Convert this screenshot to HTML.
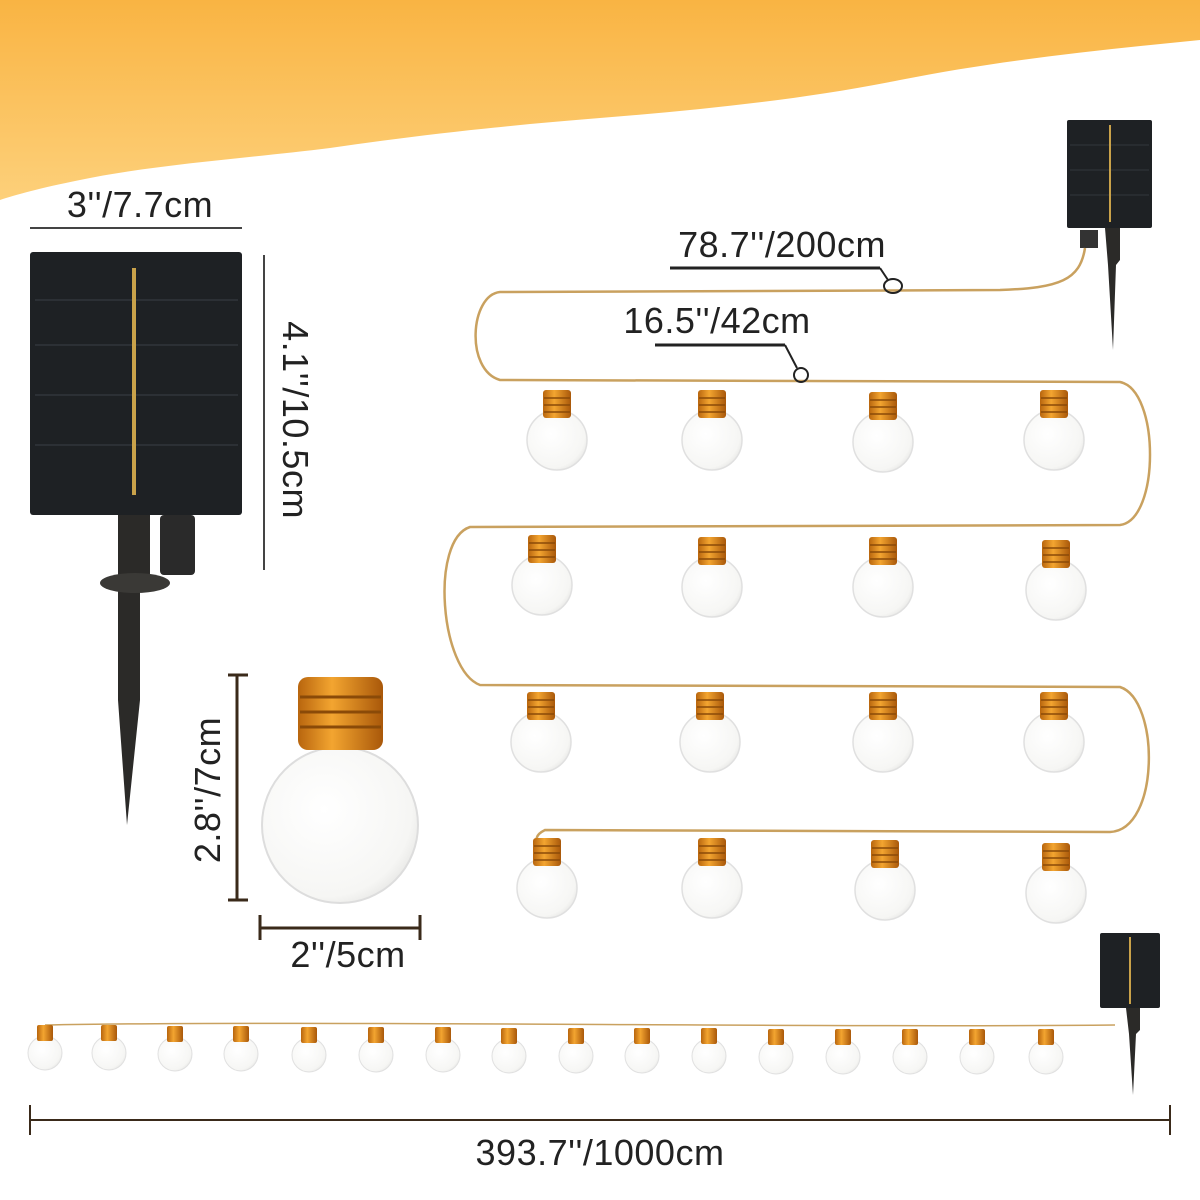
<!DOCTYPE html>
<html><head><meta charset="utf-8"><style>
html,body{margin:0;padding:0;background:#fff;}
svg{display:block}
text{font-family:"Liberation Sans",sans-serif;fill:#222;font-size:36px;letter-spacing:0.5px}
</style></head><body>
<svg width="1200" height="1200" viewBox="0 0 1200 1200" xmlns="http://www.w3.org/2000/svg">
<defs>
<linearGradient id="og" x1="0" y1="0" x2="0" y2="1"><stop offset="0" stop-color="#f9b443"/><stop offset="1" stop-color="#fdd07a"/></linearGradient>
<radialGradient id="gl" cx="0.4" cy="0.4" r="0.7"><stop offset="0" stop-color="#fff"/><stop offset="0.8" stop-color="#f6f6f4"/><stop offset="1" stop-color="#e2e2e0"/></radialGradient>
<linearGradient id="cap" x1="0" y1="0" x2="1" y2="0"><stop offset="0" stop-color="#b8650e"/><stop offset="0.4" stop-color="#f3a530"/><stop offset="1" stop-color="#a9580a"/></linearGradient>
<g id="b">
<circle cx="0" cy="50" r="30" fill="url(#gl)" stroke="#e0e0e0" stroke-width="1.5"/>
<rect x="-14" y="0" width="28" height="28" rx="3" fill="url(#cap)"/>
<line x1="-13" y1="8" x2="13" y2="8" stroke="#8a4a08" stroke-width="1.5"/>
<line x1="-13" y1="15" x2="13" y2="15" stroke="#8a4a08" stroke-width="1.5"/>
<line x1="-13" y1="22" x2="13" y2="22" stroke="#8a4a08" stroke-width="1.5"/>
</g>
<g id="s">
<circle cx="0" cy="28" r="17" fill="url(#gl)" stroke="#e0e0e0" stroke-width="1"/>
<rect x="-8" y="0" width="16" height="16" rx="2" fill="url(#cap)"/>
</g>
</defs>
<path d="M0 0H1200V40C1100 50 1000 60 900 80C800 100 700 110 600 118C500 126 420 135 330 148C250 158 150 165 80 180C40 188 15 195 0 200Z" fill="url(#og)"/>

<line x1="30" y1="228" x2="242" y2="228" stroke="#444" stroke-width="2"/>
<text x="140" y="217" text-anchor="middle">3''/7.7cm</text>
<rect x="30" y="252" width="212" height="263" rx="3" fill="#1e2124"/>
<g stroke="#2c3035" stroke-width="2"><line x1="35" y1="300" x2="238" y2="300"/><line x1="35" y1="345" x2="238" y2="345"/><line x1="35" y1="395" x2="238" y2="395"/><line x1="35" y1="445" x2="238" y2="445"/></g>
<line x1="134" y1="268" x2="134" y2="495" stroke="#c9a24a" stroke-width="4"/>
<path d="M118 515H150V575L140 580V700L127 825L118 700V580Z" fill="#2b2a28"/>
<ellipse cx="135" cy="583" rx="35" ry="10" fill="#3a3936"/>
<rect x="160" y="515" width="35" height="60" rx="4" fill="#2a2a2a"/>
<line x1="264" y1="255" x2="264" y2="570" stroke="#444" stroke-width="2"/>
<text transform="translate(283,420) rotate(90)" text-anchor="middle">4.1''/10.5cm</text>

<circle cx="340" cy="825" r="78" fill="url(#gl)" stroke="#ddd" stroke-width="2"/>
<rect x="298" y="677" width="85" height="73" rx="10" fill="url(#cap)"/>
<g stroke="#8a4a08" stroke-width="3"><line x1="300" y1="697" x2="381" y2="697"/><line x1="300" y1="712" x2="381" y2="712"/><line x1="300" y1="727" x2="381" y2="727"/></g>
<line x1="237" y1="675" x2="237" y2="900" stroke="#3a2a1a" stroke-width="3"/>
<line x1="228" y1="675" x2="248" y2="675" stroke="#3a2a1a" stroke-width="3"/>
<line x1="228" y1="900" x2="248" y2="900" stroke="#3a2a1a" stroke-width="3"/>
<text transform="translate(220,790) rotate(-90)" text-anchor="middle">2.8''/7cm</text>
<line x1="260" y1="928" x2="420" y2="928" stroke="#3a2a1a" stroke-width="3"/>
<line x1="260" y1="915" x2="260" y2="940" stroke="#3a2a1a" stroke-width="3"/>
<line x1="420" y1="915" x2="420" y2="940" stroke="#3a2a1a" stroke-width="3"/>
<text x="348" y="967" text-anchor="middle">2''/5cm</text>

<rect x="1067" y="120" width="85" height="108" rx="2" fill="#1e2124"/>
<g stroke="#2c3035" stroke-width="1.5"><line x1="1070" y1="145" x2="1149" y2="145"/><line x1="1070" y1="170" x2="1149" y2="170"/><line x1="1070" y1="195" x2="1149" y2="195"/></g>
<line x1="1110" y1="125" x2="1110" y2="222" stroke="#c9a24a" stroke-width="2"/>
<path d="M1105 228H1120V260L1116 265L1113 350L1108 265Z" fill="#2b2a28"/>
<rect x="1080" y="230" width="18" height="18" fill="#333"/>
<path d="M1085 248C1080 280 1060 288 1000 290L500 292C470 295 465 370 500 380L1120 382C1160 390 1160 520 1120 525L470 527C430 540 440 670 480 685L1120 687C1160 700 1160 830 1110 832L545 830C535 835 535 840 540 845" fill="none" stroke="#c9a15f" stroke-width="2.5"/>
<line x1="670" y1="268" x2="880" y2="268" stroke="#222" stroke-width="3"/>
<line x1="880" y1="268" x2="888" y2="280" stroke="#222" stroke-width="2"/>
<ellipse cx="893" cy="286" rx="9" ry="7" fill="none" stroke="#222" stroke-width="2"/>
<text x="782" y="257" text-anchor="middle">78.7''/200cm</text>
<line x1="655" y1="345" x2="785" y2="345" stroke="#222" stroke-width="3"/>
<line x1="785" y1="345" x2="797" y2="368" stroke="#222" stroke-width="2"/>
<circle cx="801" cy="375" r="7" fill="none" stroke="#222" stroke-width="2"/>
<text x="717" y="333" text-anchor="middle">16.5''/42cm</text>
<use href="#b" x="557" y="390"/><use href="#b" x="712" y="390"/><use href="#b" x="883" y="392"/><use href="#b" x="1054" y="390"/>
<use href="#b" x="542" y="535"/><use href="#b" x="712" y="537"/><use href="#b" x="883" y="537"/><use href="#b" x="1056" y="540"/>
<use href="#b" x="541" y="692"/><use href="#b" x="710" y="692"/><use href="#b" x="883" y="692"/><use href="#b" x="1054" y="692"/>
<use href="#b" x="547" y="838"/><use href="#b" x="712" y="838"/><use href="#b" x="885" y="840"/><use href="#b" x="1056" y="843"/>

<rect x="1100" y="933" width="60" height="75" rx="2" fill="#1e2124"/>
<line x1="1130" y1="937" x2="1130" y2="1004" stroke="#c9a24a" stroke-width="2"/>
<path d="M1126 1008H1140V1030L1136 1034L1133 1095L1129 1034Z" fill="#2b2a28"/>
<path d="M45 1025C300 1020 800 1028 1115 1025" fill="none" stroke="#c9a15f" stroke-width="1.5"/>
<use href="#s" x="45" y="1025"/><use href="#s" x="109" y="1025"/><use href="#s" x="175" y="1026"/><use href="#s" x="241" y="1026"/>
<use href="#s" x="309" y="1027"/><use href="#s" x="376" y="1027"/><use href="#s" x="443" y="1027"/><use href="#s" x="509" y="1028"/>
<use href="#s" x="576" y="1028"/><use href="#s" x="642" y="1028"/><use href="#s" x="709" y="1028"/><use href="#s" x="776" y="1029"/>
<use href="#s" x="843" y="1029"/><use href="#s" x="910" y="1029"/><use href="#s" x="977" y="1029"/><use href="#s" x="1046" y="1029"/>
<line x1="30" y1="1120" x2="1170" y2="1120" stroke="#3a2a1a" stroke-width="2"/>
<line x1="30" y1="1105" x2="30" y2="1135" stroke="#3a2a1a" stroke-width="2"/>
<line x1="1170" y1="1105" x2="1170" y2="1135" stroke="#3a2a1a" stroke-width="2"/>
<text x="600" y="1165" text-anchor="middle">393.7''/1000cm</text>
</svg>
</body></html>
